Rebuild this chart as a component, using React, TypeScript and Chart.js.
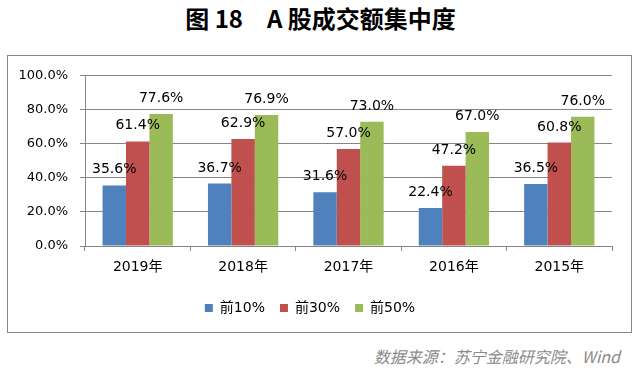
import React, { useEffect, useRef } from "react";
import { Chart, registerables } from "chart.js";

Chart.register(...registerables);

const categories = ["2019年", "2018年", "2017年", "2016年", "2015年"];
const seriesNames = ["前10%", "前30%", "前50%"];
const top10 = [35.6, 36.7, 31.6, 22.4, 36.5];
const top30 = [61.4, 62.9, 57.0, 47.2, 60.8];
const top50 = [77.6, 76.9, 73.0, 67.0, 76.0];
const colors = ["#4F81BD", "#C0504D", "#9BBB59"];

const FONT = "'DejaVu Sans', 'Noto Sans CJK SC', sans-serif";

const labelPlugin = {
  id: "barLabels",
  afterDatasetsDraw(chart: any) {
    const ctx = chart.ctx;
    ctx.save();
    ctx.font = `14px ${FONT}`;
    ctx.fillStyle = "#000";
    ctx.textAlign = "center";
    ctx.textBaseline = "alphabetic";
    chart.data.datasets.forEach((ds: any, i: number) => {
      const meta = chart.getDatasetMeta(i);
      meta.data.forEach((bar: any, j: number) => {
        const v = ds.data[j] as number;
        ctx.fillText(`${v.toFixed(1)}%`, bar.x, bar.y - 12);
      });
    });
    ctx.restore();
  },
};

export default function App() {
  const ref = useRef<HTMLCanvasElement | null>(null);
  useEffect(() => {
    document.body.style.margin = "0";
    const canvas = ref.current!;
    const chart = new Chart(canvas, {
      type: "bar",
      data: {
        labels: categories,
        datasets: [top10, top30, top50].map((d, i) => ({
          label: seriesNames[i],
          data: d,
          backgroundColor: colors[i],
          borderWidth: 0,
          categoryPercentage: 0.667,
          barPercentage: 1,
        })),
      },
      options: {
        responsive: false,
        animation: false,
        devicePixelRatio: 1,
        layout: { padding: { top: 12, right: 19, bottom: 7, left: 0 } },
        plugins: {
          legend: {
            position: "bottom",
            labels: {
              boxWidth: 8,
              boxHeight: 8,
              padding: 15,
              color: "#000",
              font: { size: 14, family: FONT },
            },
          },
          tooltip: { enabled: false },
          title: { display: false },
        },
        scales: {
          x: {
            grid: {
              display: true,
              drawOnChartArea: false,
              drawTicks: true,
              tickLength: 5,
              color: "#868686",
              offset: true,
            },
            border: { display: true, color: "#868686" },
            ticks: { color: "#000", font: { size: 14, family: FONT }, padding: 8 },
            afterFit: (s: any) => {
              s.height = 40;
            },
          },
          y: {
            min: 0,
            max: 100,
            grid: { color: "#868686", tickLength: 5, drawTicks: true },
            border: { display: true, color: "#868686" },
            ticks: {
              stepSize: 20,
              color: "#000",
              padding: 12,
              font: { size: 13, family: FONT },
              callback: (v: any) => `${Number(v).toFixed(1)}%`,
            },
            afterFit: (s: any) => {
              s.width = 77;
            },
          },
        },
      },
      plugins: [labelPlugin],
    });
    return () => chart.destroy();
  }, []);

  return (
    <div style={{ position: "relative", width: 641, height: 368, background: "#fff", overflow: "hidden" }}>
      <div
        style={{
          position: "absolute",
          left: 0,
          top: 3,
          width: 641,
          textAlign: "center",
          fontFamily: "'Noto Sans CJK SC', sans-serif",
          fontWeight: 700,
          fontSize: 24,
          lineHeight: "30px",
          color: "#000",
          whiteSpace: "pre",
        }}
      >
        {"图 18　A 股成交额集中度"}
      </div>
      <div
        style={{
          position: "absolute",
          left: 7,
          top: 55,
          width: 623,
          height: 276,
          border: "1px solid #888",
        }}
      >
        <canvas ref={ref} width={623} height={276} style={{ display: "block" }} />
      </div>
      <div
        style={{
          position: "absolute",
          right: 21,
          top: 345,
          fontFamily: "'Noto Sans CJK SC', sans-serif",
          fontStyle: "italic",
          fontSize: 16,
          lineHeight: "22px",
          color: "#8a8a8a",
          whiteSpace: "pre",
        }}
      >
        数据来源：苏宁金融研究院、Wind
      </div>
    </div>
  );
}
